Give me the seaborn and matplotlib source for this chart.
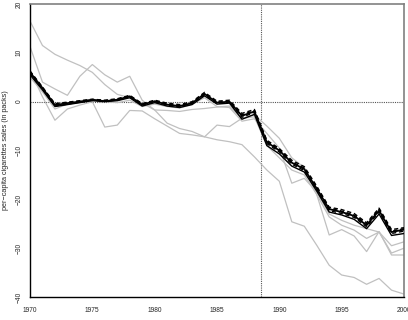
import numpy as np
import pandas as pd
import matplotlib
matplotlib.use("Agg")
import matplotlib.pyplot as plt
import seaborn as sns

years = list(range(1970, 2001))

# gray placebo / comparison gaps
gray_a = [16.5, 11.5, 9.7, 8.5, 7.4, 6.0, 3.5, 1.5, 0.8, -0.3, -1.7, -1.8, -2.0, -1.6, -1.4, -1.1, -0.9, -3.4, -3.1,
          -9.0, -11.5, -14.0, -15.0, -19.0, -23.6, -25.3, -26.3, -28.0, -26.7, -31.0, -30.0]
gray_b = [11.3, 4.0, 2.6, 1.3, 5.2, 7.6, 5.5, 4.0, 5.2, 0.3, -1.7, -4.4, -5.5, -6.1, -7.2, -7.8, -8.2, -8.8, -11.3,
          -14.0, -16.3, -24.6, -25.5, -29.4, -33.5, -35.5, -36.0, -37.4, -36.2, -38.6, -39.4]
gray_c = [6.5, 1.0, -3.8, -1.5, -0.7, 0.0, -5.2, -4.8, -1.8, -1.9, -3.5, -5.0, -6.5, -6.8, -7.2, -4.8, -5.1, -3.4, -2.7,
          -5.0, -7.5, -11.5, -13.5, -19.0, -27.3, -26.2, -27.5, -30.7, -26.6, -31.4, -31.4]
gray_d = [5.0, 2.0, -1.5, -0.5, 0.2, 0.5, 0.0, -0.2, 0.3, -1.0, -0.5, -1.0, -1.3, -0.5, 0.8, -1.0, -1.2, -4.0, -3.5,
          -6.5, -9.5, -16.7, -15.7, -18.5, -23.0, -24.3, -25.3, -26.0, -26.7, -29.5, -28.7]

# black: main gap (solid) and leave-one-out estimates
main_gap = [6.0, 2.8, -0.7, -0.3, 0.0, 0.4, 0.1, 0.4, 1.1, -0.6, 0.1, -0.6, -0.9, -0.3, 1.6, -0.2, 0.0, -2.9, -2.0,
            -8.3, -10.0, -12.5, -13.8, -17.8, -22.0, -22.6, -23.4, -25.3, -22.3, -26.7, -26.2]
loo_1 = [5.5, 2.4, -1.0, -0.6, -0.2, 0.2, 0.0, 0.2, 0.8, -0.9, -0.2, -0.9, -1.2, -0.6, 1.2, -0.5, -0.3, -3.6, -2.6,
         -9.0, -10.7, -13.2, -14.4, -18.3, -22.6, -23.2, -24.1, -26.0, -23.0, -27.4, -27.0]
loo_2 = [6.3, 3.0, -0.4, -0.1, 0.2, 0.5, 0.3, 0.6, 1.3, -0.4, 0.3, -0.3, -0.6, 0.0, 1.9, 0.1, 0.3, -2.4, -1.6,
         -7.9, -9.6, -12.0, -13.3, -17.3, -21.6, -22.1, -22.9, -24.8, -21.8, -26.2, -25.8]
loo_3 = [5.8, 2.6, -0.9, -0.5, -0.1, 0.3, 0.2, 0.3, 1.0, -0.7, 0.0, -0.7, -1.0, -0.4, 1.4, -0.3, -0.1, -3.2, -2.2,
         -8.6, -10.3, -12.8, -14.1, -18.0, -22.3, -22.9, -23.7, -25.6, -22.6, -27.0, -26.5]
loo_4 = [6.1, 2.9, -0.6, -0.2, 0.1, 0.4, 0.2, 0.5, 1.2, -0.5, 0.2, -0.5, -0.8, -0.2, 1.7, -0.1, 0.1, -2.7, -1.8,
         -8.1, -9.8, -12.3, -13.6, -17.6, -21.8, -22.4, -23.2, -25.0, -22.0, -26.5, -26.0]

x_ticks = [1970, 1975, 1980, 1985, 1990, 1995, 2000]
y_ticks = [-40, -30, -20, -10, 0, 10, 20]
treat_year = 1988.5
y_label = "per\u2212capita cigarettes sales (in packs)"

sns.set_theme(style="white")
plt.rcParams['font.family'] = ['Liberation Sans', 'DejaVu Sans']

fig = plt.figure(figsize=(4.08, 3.20), dpi=100)
ax = fig.add_axes([30 / 408, 1 - 297 / 320, 374 / 408, 293 / 320])

for g in [gray_a, gray_b, gray_c, gray_d]:
    sns.lineplot(x=years, y=g, ax=ax, color="#c0c0c0", lw=0.9, zorder=2)

sns.lineplot(x=years, y=loo_1, ax=ax, color="black", lw=1.0, zorder=3)
sns.lineplot(x=years, y=main_gap, ax=ax, color="black", lw=1.3, zorder=4)
for g in [loo_2, loo_3, loo_4]:
    l = sns.lineplot(x=years, y=g, ax=ax, color="black", lw=1.0, zorder=4)
    l.lines[-1].set_linestyle((0, (3, 2)))

ax.axhline(0, color="#555555", lw=0.8, ls=(0, (1, 1)), zorder=1)
ax.axvline(treat_year, color="#555555", lw=0.8, ls=(0, (1, 1)), zorder=1)

ax.set_xlim(1970, 2000)
ax.set_ylim(-40, 20)
ax.set_xticks(x_ticks)
ax.set_yticks(y_ticks)
ax.set_xticklabels([str(t) for t in x_ticks], fontsize=4.8)
ax.set_yticklabels([str(t).replace('-', '\u2212') for t in y_ticks], fontsize=4.8, rotation=90, va='center')
ax.tick_params(axis='x', direction='out', length=3, width=0.8, color='black', pad=4)
ax.tick_params(axis='y', direction='out', length=3, width=0.8, color='black', pad=2.5)
ax.set_xlabel("")
ax.set_ylabel(y_label, fontsize=5.2, va='center')
ax.yaxis.set_label_coords(-0.0655, 0.5)

for s in ['left', 'bottom']:
    ax.spines[s].set_color('black')
    ax.spines[s].set_linewidth(1.0)
for s in ['top', 'right']:
    ax.spines[s].set_color('#808080')
    ax.spines[s].set_linewidth(1.2)

fig.savefig("out.png", dpi=100)
